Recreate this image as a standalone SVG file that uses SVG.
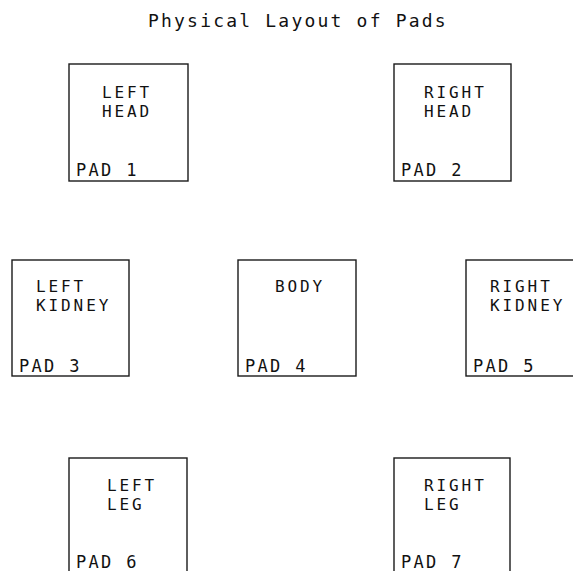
<svg xmlns="http://www.w3.org/2000/svg" width="573" height="571" viewBox="0 0 573 571">
<style>
.box{fill:#fff;stroke:#1a1a1a;stroke-width:1.4}
text{font-family:"DejaVu Sans Mono","Liberation Mono",monospace;fill:#111}
.lbl{font-size:16px;letter-spacing:2.9px}
.pad{font-size:17px;letter-spacing:2.3px}
.ttl{font-size:18px;letter-spacing:2.2px}
</style>
<rect width="573" height="571" fill="#fff"/>
<text id="title" class="ttl" x="148" y="27">Physical Layout of Pads</text>
<g id="pad1">
<rect class="box" x="69" y="64" width="119" height="117"/>
<text class="lbl" x="102" y="98">LEFT</text><text class="lbl" x="102" y="117">HEAD</text>
<text class="pad" x="76" y="176">PAD 1</text>
</g>
<g id="pad2">
<rect class="box" x="394" y="64" width="117" height="117"/>
<text class="lbl" x="424" y="98">RIGHT</text><text class="lbl" x="424" y="117">HEAD</text>
<text class="pad" x="401" y="176">PAD 2</text>
</g>
<g id="pad3">
<rect class="box" x="12" y="260" width="117" height="116"/>
<text class="lbl" x="36" y="292">LEFT</text><text class="lbl" x="36" y="311">KIDNEY</text>
<text class="pad" x="19" y="372">PAD 3</text>
</g>
<g id="pad4">
<rect class="box" x="238" y="260" width="118" height="116"/>
<text class="lbl" x="275" y="292">BODY</text>
<text class="pad" x="245" y="372">PAD 4</text>
</g>
<g id="pad5">
<rect class="box" x="466" y="260" width="118" height="116"/>
<text class="lbl" x="490" y="292">RIGHT</text><text class="lbl" x="490" y="311">KIDNEY</text>
<text class="pad" x="473" y="372">PAD 5</text>
</g>
<g id="pad6">
<rect class="box" x="69" y="458" width="118" height="130"/>
<text class="lbl" x="107" y="491">LEFT</text><text class="lbl" x="107" y="510">LEG</text>
<text class="pad" x="76" y="568">PAD 6</text>
</g>
<g id="pad7">
<rect class="box" x="394" y="458" width="116" height="130"/>
<text class="lbl" x="424" y="491">RIGHT</text><text class="lbl" x="424" y="510">LEG</text>
<text class="pad" x="401" y="568">PAD 7</text>
</g>
<g id="connectors"></g>
</svg>
